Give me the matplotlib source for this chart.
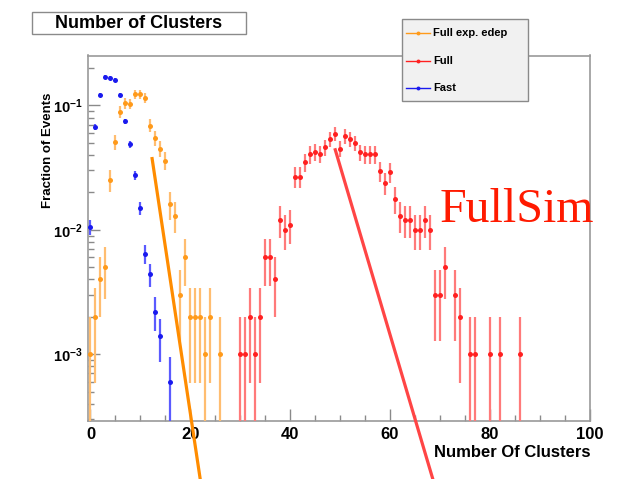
import numpy as np
import matplotlib
matplotlib.use("Agg")
import matplotlib.pyplot as plt
from matplotlib.patches import Rectangle
from matplotlib.lines import Line2D
from matplotlib.ticker import FixedLocator, LogLocator, NullFormatter, MultipleLocator

plt.rcParams['font.family'] = ['Liberation Sans', 'DejaVu Sans']
plt.rcParams['mathtext.fontset'] = 'custom'
plt.rcParams['mathtext.rm'] = 'Liberation Sans:bold'
plt.rcParams['mathtext.it'] = 'Liberation Sans:bold'
plt.rcParams['mathtext.bf'] = 'Liberation Sans:bold'

# ---- number-of-clusters distributions (fraction of events per bin) ----
fast_n = [0, 1, 2, 3, 4, 5, 6, 7, 8, 9, 10, 11, 12, 13, 14, 16]
fast_frac = [0.0106, 0.067, 0.122, 0.171, 0.166, 0.160, 0.121, 0.0746,
             0.049, 0.0276, 0.0149, 0.0064, 0.0044, 0.0022, 0.0014, 0.0006]
fast_events = 5000

edep_n = [0, 1, 2, 3, 4, 5, 6, 7, 8, 9, 10, 11, 12, 13, 14, 15, 16, 17,
          18, 19, 20, 21, 22, 23, 24, 26]
edep_frac = [0.001, 0.002, 0.004, 0.005, 0.025, 0.051, 0.089, 0.104, 0.103,
             0.123, 0.123, 0.1155, 0.069, 0.055, 0.045, 0.036, 0.016, 0.013,
             0.003, 0.006, 0.002, 0.002, 0.002, 0.001, 0.002, 0.001]
edep_events = 1000

full_n = [30, 31, 32, 33, 34, 35, 36, 37, 38, 39, 40, 41, 42, 43, 44, 45,
          46, 47, 48, 49, 50, 51, 52, 53, 54, 55, 56, 57, 58, 59, 60, 61,
          62, 63, 64, 65, 66, 67, 68, 69, 70, 71, 73, 74, 76, 77, 80, 82, 86]
full_frac = [0.001, 0.001, 0.002, 0.001, 0.002, 0.006, 0.006, 0.004, 0.012,
             0.010, 0.011, 0.0267, 0.0267, 0.035, 0.0405, 0.0425, 0.041,
             0.046, 0.0537, 0.059, 0.045, 0.057, 0.0537, 0.0497, 0.042,
             0.0405, 0.0405, 0.0405, 0.0298, 0.024, 0.029, 0.0177, 0.013,
             0.012, 0.012, 0.010, 0.010, 0.012, 0.010, 0.003, 0.003, 0.005,
             0.003, 0.002, 0.001, 0.001, 0.001, 0.001, 0.001]
full_events = 1000

# slope guides drawn over the distributions (x, fraction)
edep_guide_x = [12.3, 23.0]
edep_guide_y = [0.0385, 5.3e-5]
full_guide_x = [48.96, 70.0]
full_guide_y = [0.0453, 6.4e-5]

legend_labels = ["Full exp. edep", "Full", "Fast"]

W, H = 618, 479
fig = plt.figure(figsize=(W / 100, H / 100), dpi=100)
fig.patch.set_facecolor('white')


def fx(px):
    return px / W


def fy(py):
    return 1 - py / H


ax = fig.add_axes([fx(88), fy(421), fx(590) - fx(88), fy(55.5) - fy(421)])
ax.set_yscale('log', nonpositive='clip')
ax.set_xlim(-0.5, 100.1)
ax.set_ylim(2.9e-4, 0.2523)

samples = [
    (fast_n, fast_frac, fast_events, '#1a1aee', '#5a5aff'),
    (edep_n, edep_frac, edep_events, '#ff9a1a', '#ffbd70'),
    (full_n, full_frac, full_events, '#ff2020', '#ff7a7a'),
]
for xs, fr, nev, mcol, ecol in samples:
    xs = np.asarray(xs, float)
    fr = np.asarray(fr, float)
    err = np.sqrt(fr / nev)
    lower = np.minimum(err, fr * 0.99999)
    ax.errorbar(xs, fr, yerr=[lower, err], fmt='o', ms=3.6, mfc=mcol,
                mec=mcol, mew=0, ecolor=ecol, elinewidth=1.6, capsize=0,
                zorder=3)

ax.plot(edep_guide_x, edep_guide_y, color='#ff8c00', lw=2.3,
        clip_on=False, zorder=4, solid_capstyle='butt')
ax.plot(full_guide_x, full_guide_y, color='#ff4545', lw=2.3,
        clip_on=False, zorder=4, solid_capstyle='butt')

# axes frame and ticks
for side in ['left', 'bottom', 'right', 'top']:
    ax.spines[side].set_color('#9a9a9a')
    ax.spines[side].set_linewidth(1.2)

ax.xaxis.set_major_locator(MultipleLocator(20))
ax.xaxis.set_minor_locator(MultipleLocator(5))
ax.yaxis.set_major_locator(FixedLocator([1e-3, 1e-2, 1e-1]))
ax.yaxis.set_minor_locator(LogLocator(base=10, subs=np.arange(2, 10)))
ax.yaxis.set_minor_formatter(NullFormatter())
ax.set_yticklabels([r'$10^{-3}$', r'$10^{-2}$', r'$10^{-1}$'])
ax.tick_params(which='both', direction='in', color='#8a8a8a', width=1.0,
               top=False, right=False)
ax.tick_params(which='major', length=8.5)
ax.tick_params(which='minor', length=4)
ax.tick_params(axis='x', labelsize=12, pad=4)
ax.tick_params(axis='y', labelsize=10.5, pad=4)
for lab in ax.get_xticklabels():
    lab.set_fontweight('bold')

ax.set_xlabel('Number Of Clusters', fontsize=12, fontweight='bold',
              ha='right', va='center')
ax.xaxis.set_label_coords(1.0, -0.085)
ax.set_ylabel('Fraction of Events', fontsize=9.5, fontweight='bold',
              va='center')
ax.yaxis.set_label_coords((48 - 88) / 502, (421 - 150) / 365.5)

# title box
fig.add_artist(Rectangle((fx(31.7), fy(34.3)), fx(246) - fx(31.7),
                         fy(12.3) - fy(34.3), transform=fig.transFigure,
                         facecolor='white', edgecolor='#8a8a8a', lw=1.0,
                         zorder=5))
fig.text(fx(139), fy(23.8), 'Number of Clusters', fontsize=13,
         fontweight='bold', ha='center', va='center', zorder=6)

# legend box
fig.add_artist(Rectangle((fx(401.7), fy(100.7)), fx(527.7) - fx(401.7),
                         fy(19) - fy(100.7), transform=fig.transFigure,
                         facecolor='#f1f1f1', edgecolor='#8a8a8a', lw=1.0,
                         zorder=5))
legend_colors = ['#ff9a1a', '#ff2020', '#1a1aee']
rows = [33.3, 60.7, 88.3]
for lab, col, ry in zip(legend_labels, legend_colors, rows):
    fig.add_artist(Line2D([fx(406), fx(430)], [fy(ry), fy(ry)],
                          transform=fig.transFigure, color=col, lw=1.0,
                          zorder=6))
    fig.add_artist(Line2D([fx(418)], [fy(ry)], transform=fig.transFigure,
                          marker='o', ms=2.8, color=col, mew=0, zorder=7))
    fig.text(fx(433), fy(ry), lab, fontsize=8, fontweight='bold',
             ha='left', va='center', zorder=7)

# simulation tag
fig.text(fx(440), fy(221.7), 'FullSim', fontsize=34.5,
         family=['Liberation Serif', 'DejaVu Serif'], color='#ff1a00',
         ha='left', va='baseline', zorder=6)

fig.savefig('out.png', dpi=100)
